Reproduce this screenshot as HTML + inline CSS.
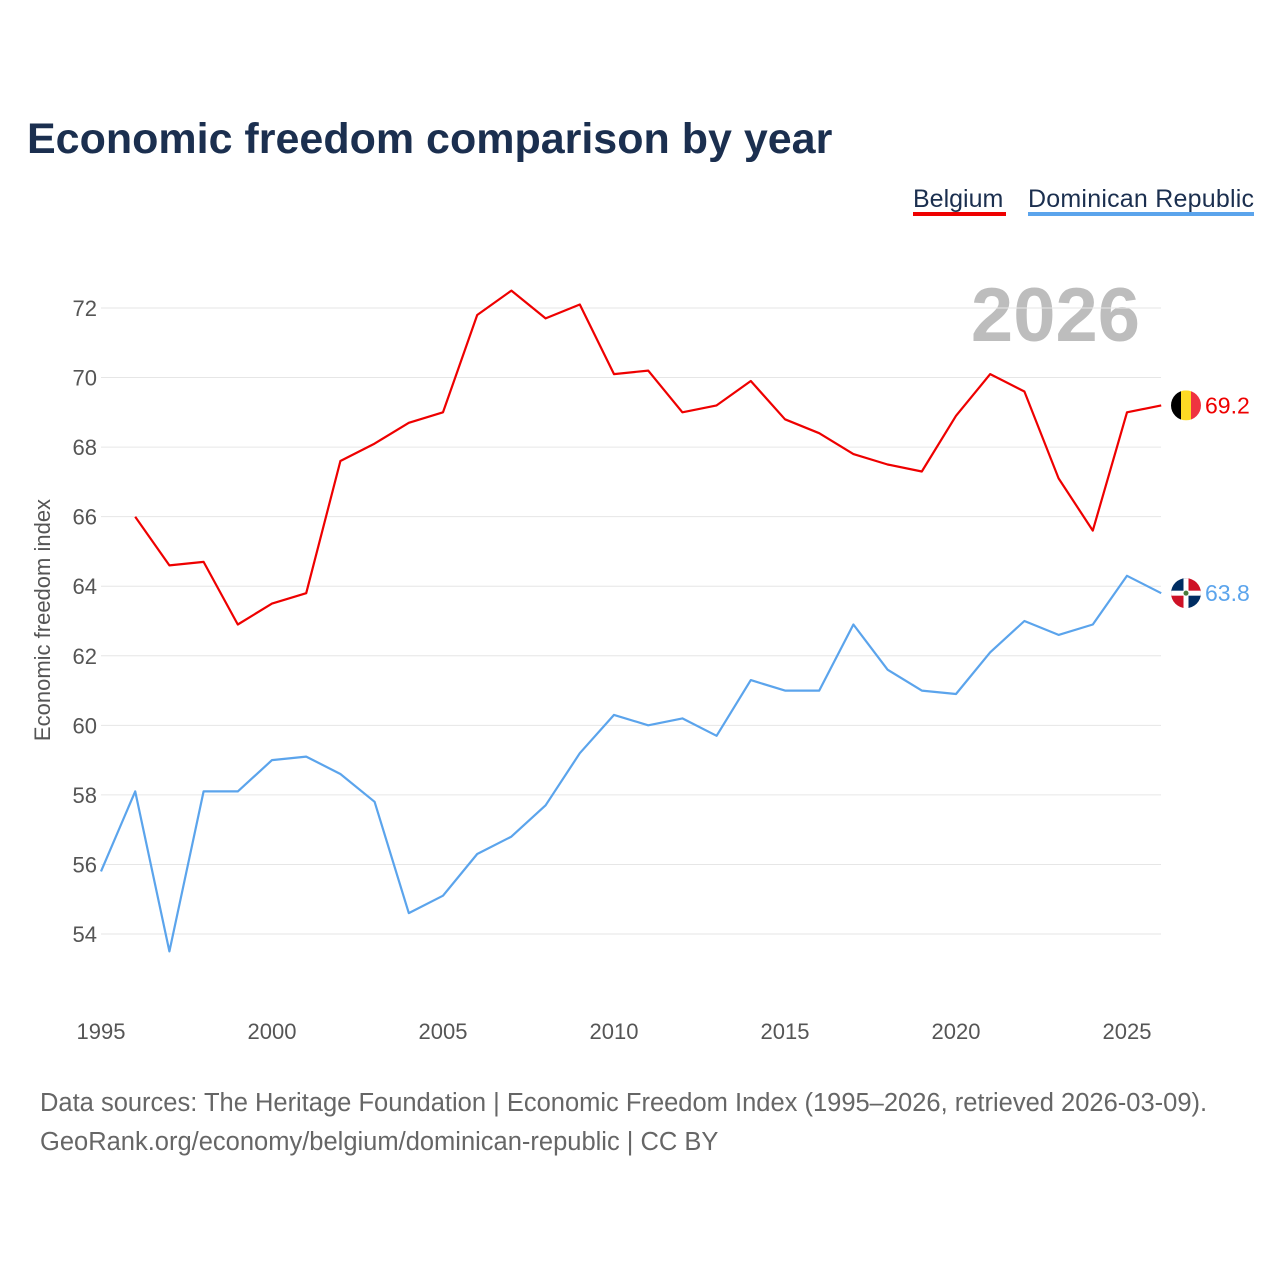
<!DOCTYPE html>
<html><head><meta charset="utf-8">
<style>
body{margin:0;background:#fff;font-family:"Liberation Sans",sans-serif;}
svg{display:block}
</style></head>
<body>
<svg id="chart" width="1280" height="1280" viewBox="0 0 1280 1280">
<text x="27" y="153" font-size="43" font-weight="bold" fill="#1b2f4f">Economic freedom comparison by year</text>
<g>
<text x="913" y="207" font-size="25" fill="#1b2f4f">Belgium</text>
<rect x="913" y="212" width="93" height="4" fill="#ee0000"/>
<text x="1028" y="207" font-size="25" fill="#1b2f4f" textLength="226">Dominican Republic</text>
<rect x="1028" y="212" width="226" height="4" fill="#5ba4ec"/>
</g>
<text x="1140" y="341" font-size="76" font-weight="bold" fill="#bdbdbd" text-anchor="end">2026</text>
<g id="grid"></g>
<g id="yticks"></g>
<g id="xticks"></g>
<text transform="translate(50,620) rotate(-90)" font-size="22" fill="#555" text-anchor="middle">Economic freedom index</text>
<g id="series"></g>
<text x="40" y="1111" font-size="25.5" fill="#666">Data sources: The Heritage Foundation | Economic Freedom Index (1995–2026, retrieved 2026-03-09).</text>
<text x="40" y="1150" font-size="25.5" fill="#666">GeoRank.org/economy/belgium/dominican-republic | CC BY</text>
</svg>
<script>
const years = [1995,1996,1997,1998,1999,2000,2001,2002,2003,2004,2005,2006,2007,2008,2009,2010,2011,2012,2013,2014,2015,2016,2017,2018,2019,2020,2021,2022,2023,2024,2025,2026];
const belgium = [null,66.0,64.6,64.7,62.9,63.5,63.8,67.6,68.1,68.7,69.0,71.8,72.5,71.7,72.1,70.1,70.2,69.0,69.2,69.9,68.8,68.4,67.8,67.5,67.3,68.9,70.1,69.6,67.1,65.6,69.0,69.2];
const dominican = [55.8,58.1,53.5,58.1,58.1,59.0,59.1,58.6,57.8,54.6,55.1,56.3,56.8,57.7,59.2,60.3,60.0,60.2,59.7,61.3,61.0,61.0,62.9,61.6,61.0,60.9,62.1,63.0,62.6,62.9,64.3,63.8];
const yTicks = [54,56,58,60,62,64,66,68,70,72];
const xTicks = [1995,2000,2005,2010,2015,2020,2025];
const NS="http://www.w3.org/2000/svg";
const X = y => 101 + (y-1995)*(1127-101)/30;
const Y = v => 934 - (v-54)*(934-308)/18;
function mk(tag, attrs, parent){const e=document.createElementNS(NS,tag);for(const k in attrs)e.setAttribute(k,attrs[k]);parent.appendChild(e);return e;}
const grid=document.getElementById('grid'), yt=document.getElementById('yticks'), xt=document.getElementById('xticks'), ser=document.getElementById('series');
yTicks.forEach(v=>{
  const l=mk('line',{x1:101,x2:1161,y1:Y(v),y2:Y(v),stroke:'#e6e6e6','stroke-width':1},grid);
  
  
  const t=mk('text',{x:97,y:Y(v)+8,'font-size':22,fill:'#555','text-anchor':'end'},yt);
  t.textContent=v;
  
  
});
xTicks.forEach(v=>{
  const t=mk('text',{x:X(v),y:1039,'font-size':22,fill:'#555','text-anchor':'middle'},xt);
  t.textContent=v;
  
  
});
function line(vals,color,name){
  let d='';vals.forEach((v,i)=>{if(v==null)return;d+=(d?'L':'M')+X(years[i]).toFixed(1)+','+Y(v).toFixed(1);});
  const p=mk('path',{d:d,fill:'none',stroke:color,'stroke-width':2.2,'stroke-linejoin':'round'},ser);
  
  
  const last=vals[vals.length-1], ly=Y(last);
  const lab=mk('text',{x:1205,y:ly+8,'font-size':23,fill:color},ser);
  lab.textContent=last.toFixed(1);
  
  
  return ly;
}
const by=line(belgium,'#ee0000','belgium-line');
const dy=line(dominican,'#5ba4ec','dominican-line');
const bf=mk('g',{},ser);


const cpb=mk('clipPath',{id:'cb'},bf);mk('circle',{cx:1186,cy:by,r:15},cpb);
const gb=mk('g',{'clip-path':'url(#cb)'},bf);
mk('rect',{x:1171,y:by-15,width:10,height:30,fill:'#000'},gb);
mk('rect',{x:1181,y:by-15,width:10,height:30,fill:'#fdda24'},gb);
mk('rect',{x:1191,y:by-15,width:10,height:30,fill:'#ef3340'},gb);
const df=mk('g',{},ser);


const cp=mk('clipPath',{id:'cd'},df);mk('circle',{cx:1186,cy:dy,r:15},cp);
const gd=mk('g',{'clip-path':'url(#cd)'},df);
mk('rect',{x:1171,y:dy-15,width:15,height:15,fill:'#002d62'},gd);
mk('rect',{x:1186,y:dy-15,width:15,height:15,fill:'#ce1126'},gd);
mk('rect',{x:1171,y:dy,width:15,height:15,fill:'#ce1126'},gd);
mk('rect',{x:1186,y:dy,width:15,height:15,fill:'#002d62'},gd);
mk('rect',{x:1171,y:dy-2.5,width:30,height:5,fill:'#fff'},gd);
mk('rect',{x:1183.5,y:dy-15,width:5,height:30,fill:'#fff'},gd);
mk('circle',{cx:1186,cy:dy,r:2.5,fill:'#4a7a3a'},gd);
</script>
</body></html>
